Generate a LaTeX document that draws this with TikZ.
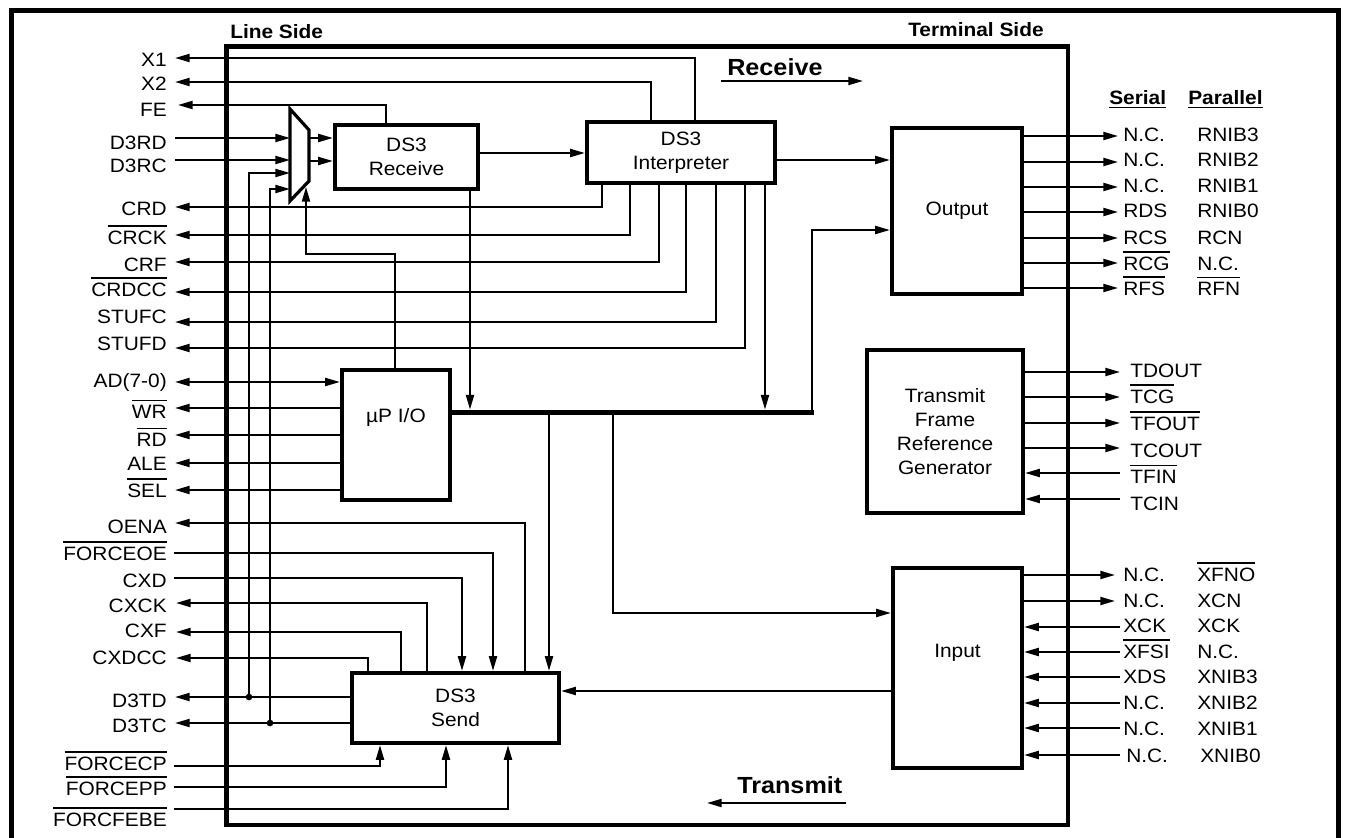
\documentclass[tikz,border=0pt]{standalone}
\usepackage{fontspec}
\setmainfont[FakeStretch=1.08]{Liberation Sans}
\usetikzlibrary{arrows.meta,calc}
\newcommand\ovl[1]{\setbox0\hbox{#1}\rlap{\raisebox{\dimexpr\ht0+2.6pt\relax}{\rule{\wd0}{1.2pt}}}\box0}
\newcommand\uln[1]{\setbox0\hbox{#1}\rlap{\raisebox{-2.6pt}{\rule{\wd0}{1.3pt}}}\box0}
\tikzset{
 wire/.style={line width=1.5pt},
 arr/.style={wire,-{Triangle[length=11pt,width=6pt]}},
 darr/.style={wire,{Triangle[length=11pt,width=6pt]}-{Triangle[length=11pt,width=6pt]}},
 blk/.style={draw,line width=3.2pt,inner sep=0pt,align=center,font=\fontsize{14.5}{17.8}\selectfont},
 pin/.style={inner sep=0pt,font=\fontsize{14.5}{17}\selectfont},
 hdr/.style={inner sep=0pt,font=\fontsize{14.5}{17}\selectfont\bfseries},
 big/.style={inner sep=0pt,font=\fontsize{17.5}{20}\selectfont\bfseries},
 dotc/.style={circle,fill,inner sep=0pt,minimum size=5pt},
}
\begin{document}
\begin{tikzpicture}[x=0.75pt,y=-0.75pt]
\useasboundingbox (0,0) rectangle (1346,838);
\fill[white] (0,0) rectangle (1346,838);
% outer frame and chip outline
\draw[line width=3.75pt] (11,838) -- (11,11) -- (1338,11) -- (1338,838);
\draw[line width=3.2pt] (226.5,46.5) rectangle (1068,825);
\node[hdr,anchor=base west] (lineside) at (230,39) {Line Side};
\node[hdr,anchor=base west] (termside) at (908,37) {Terminal Side};
% blocks
\node[blk,minimum width=107.25pt,minimum height=48pt] (recv) at (406.5,157) {DS3\\Receive};
\node[blk,minimum width=141pt,minimum height=45.75pt] (interp) at (681,152.5) {DS3\\Interpreter};
\node[blk,minimum width=97.5pt,minimum height=124.5pt] (outp) at (957,211) {Output};
\node[blk,minimum width=117pt,minimum height=122.25pt] (tfrg) at (945,431.5) {Transmit\\Frame\\Reference\\Generator};
\node[blk,minimum width=96.75pt,minimum height=150pt] (inp) at (957.5,668) {Input\\[8pt]};
\node[blk,minimum width=81pt,minimum height=97.5pt] (mpu) at (396,435) {µP I/O\\[12pt]};
\node[blk,minimum width=155.25pt,minimum height=52.5pt] (send) at (455.5,708) {DS3\\Send};
% mux
\draw[line width=2.4pt,line join=miter] (290,109) -- (309,130) -- (309,181) -- (290,201) -- cycle;
\coordinate (muxI1) at (290,138);
\coordinate (muxI2) at (290,160);
\coordinate (muxI3) at (290,173);
\coordinate (muxI4) at (290,189);
\coordinate (muxO1) at (309,138);
\coordinate (muxO2) at (309,161);
\coordinate (muxS) at (306,187);
% bus
\coordinate (busL) at (450,412);
\coordinate (busR) at (814,412);
\draw[line width=3.75pt] (busL) -- (busR);
% left pin ends
\coordinate (pX1) at (175,58);
\coordinate (pX2) at (175,82);
\coordinate (pFE) at (178,105);
\coordinate (pD3RD) at (175,138);
\coordinate (pD3RC) at (175,160);
% top connectors
\draw[arr] (interp.north -| 695,0) |- (pX1);
\draw[arr] (interp.north -| 651,0) |- (pX2);
\draw[arr] (recv.north -| 386,0) |- (pFE);
\draw[arr] (pD3RD) -- (muxI1);
\draw[arr] (pD3RC) -- (muxI2);
\node[dotc] (dTD) at (249,697) {};
\node[dotc] (dTC) at (270,723) {};
\draw[arr] (dTD.center) |- (muxI3);
\draw[arr] (dTC.center) |- (muxI4);
\draw[arr] (muxO1) -- (recv.west |- muxO1);
\draw[arr] (muxO2) -- (recv.west |- muxO2);
\draw[arr] (mpu.north -| 395,0) -- (395,254) -- (306,254) -- (muxS);
\draw[arr] (recv.east |- 0,153) -- (interp.west |- 0,153);
\draw[arr,shorten >=1.8pt] (recv.south -| 470,0) -- (busL -| 470,0);
\draw[arr] (interp.east |- 0,160) -- (outp.west |- 0,160);
% interpreter status outputs
\foreach \xx/\yy/\nm in {602/207/CRD,630/235/CRCK,659/262/CRF,686/292/CRDCC,716/322/STUFC,745/348/STUFD}{
  \coordinate (p\nm) at (175,\yy);
  \draw[arr] (interp.south -| \xx,0) |- (p\nm);
}
\draw[arr,shorten >=1.8pt] (interp.south -| 765,0) -- (busR -| 765,0);
\draw[arr] (busR -| 812,0) |- (outp.west |- 0,230);
\draw[arr] (busL -| 549,0) -- (send.north -| 549,0);
\draw[arr] (busL -| 613,0) |- (inp.west |- 0,613);
% microprocessor pins
\coordinate (pAD) at (175,382);
\draw[darr] (pAD) -- (mpu.west |- pAD);
\foreach \yy/\nm in {408/WR,435/RD,463/ALE,490/SEL}{
  \coordinate (p\nm) at (175,\yy);
  \draw[arr] (mpu.west |- p\nm) -- (p\nm);
}
% send pins
\coordinate (pOENA) at (175,523);
\draw[arr] (send.north -| 525,0) |- (pOENA);
\coordinate (pFOE) at (174,553);
\draw[arr] (pFOE) -| (send.north -| 493,0);
\coordinate (pCXD) at (174,578);
\draw[arr] (pCXD) -| (send.north -| 462,0);
\coordinate (pCXCK) at (176,603);
\draw[arr] (send.north -| 427,0) |- (pCXCK);
\coordinate (pCXF) at (176,632);
\draw[arr] (send.north -| 401,0) |- (pCXF);
\coordinate (pCXDCC) at (176,658);
\draw[arr] (send.north -| 368,0) |- (pCXDCC);
\coordinate (pD3TD) at (175,697);
\draw[arr] (send.west |- pD3TD) -- (pD3TD);
\coordinate (pD3TC) at (175,723);
\draw[arr] (send.west |- pD3TC) -- (pD3TC);
\coordinate (pFCP) at (174,766);
\draw[arr] (pFCP) -| (send.south -| 380,0);
\coordinate (pFPP) at (174,787);
\draw[arr] (pFPP) -| (send.south -| 446,0);
\coordinate (pFFB) at (174,809);
\draw[arr] (pFFB) -| (send.south -| 508,0);
\draw[arr] (inp.west |- 0,691) -- (send.east |- 0,691);
% left labels
\foreach \yy/\tt [count=\i] in {67/X1,91/X2,117/FE,150/D3RD,173/D3RC,216/CRD,244/\ovl{CRCK},272/CRF,296/\ovl{CRDCC},323/STUFC,350/STUFD,387/AD(7-0),418/\ovl{WR},446/\ovl{RD},470/ALE,497/\ovl{SEL},533/OENA,560/\ovl{FORCEOE},587/CXD,612/CXCK,637/CXF,664/CXDCC,707/D3TD,732/D3TC,770/\ovl{FORCECP},795/\ovl{FORCEPP},826/\ovl{FORCFEBE}}{
  \node[pin,anchor=base east] (L\i) at (167,\yy) {\tt};
}
% output pins
\node[hdr,anchor=base west] (hser) at (1109,105) {\uln{Serial}};
\node[hdr,anchor=base west] (hpar) at (1188,105) {\uln{Parallel}};
\foreach \yy/\bb/\ss/\pp [count=\i] in {136/142/N.C./RNIB3,162/167/N.C./RNIB2,187/193/N.C./RNIB1,212/218/RDS/RNIB0,238/244/RCS/RCN,263/270/\ovl{RCG}/N.C.,288/295/\ovl{RFS}/\ovl{RFN}}{
  \coordinate (o\i) at (1118,\yy);
  \draw[arr] (outp.east |- o\i) -- (o\i);
  \node[pin,anchor=base west] (os\i) at (1123,\bb) {\ss};
  \node[pin,anchor=base west] (op\i) at (1197,\bb) {\pp};
}
% transmit frame reference generator pins
\foreach \yy/\bb/\ss [count=\i] in {372/377/TDOUT,397/403/\ovl{TCG},423/430/\ovl{TFOUT},448/457/TCOUT}{
  \coordinate (t\i) at (1120,\yy);
  \draw[arr] (tfrg.east |- t\i) -- (t\i);
  \node[pin,anchor=base west] (ts\i) at (1130,\bb) {\ss};
}
\foreach \yy/\bb/\ss [count=\i] in {473/483/\ovl{TFIN},499/510/TCIN}{
  \coordinate (ti\i) at (1120,\yy);
  \draw[arr] (ti\i) -- (tfrg.east |- ti\i);
  \node[pin,anchor=base west] (tis\i) at (1130,\bb) {\ss};
}
% input pins
\foreach \yy/\bb/\ss/\pp [count=\i] in {575/581/N.C./\ovl{XFNO},601/607/N.C./XCN}{
  \coordinate (x\i) at (1115,\yy);
  \draw[arr] (inp.east |- x\i) -- (x\i);
  \node[pin,anchor=base west] (xs\i) at (1123,\bb) {\ss};
  \node[pin,anchor=base west] (xp\i) at (1197,\bb) {\pp};
}
\foreach \yy/\bb/\ss/\pp/\xs [count=\i] in {627/632/XCK/XCK/0,652/658/\ovl{XFSI}/N.C./0,677/683/XDS/XNIB3/0,703/709/N.C./XNIB2/0,728/735/N.C./XNIB1/0,755/762/N.C./XNIB0/3}{
  \coordinate (xi\i) at (1120,\yy);
  \draw[arr] (xi\i) -- (inp.east |- xi\i);
  \node[pin,anchor=base west] (xis\i) at (1123+\xs,\bb) {\ss};
  \node[pin,anchor=base west] (xip\i) at (1197+\xs,\bb) {\pp};
}
% direction indicators
\node[big,anchor=base west] (rcvlbl) at (727,76) {Receive};
\coordinate (ra) at (721,81);
\coordinate (rb) at (863,81);
\draw[arr] (ra) -- (rb);
\node[big,anchor=base west] (xmtlbl) at (737,793) {Transmit};
\coordinate (ta) at (846,803);
\coordinate (tb) at (707,803);
\draw[arr] (ta) -- (tb);
\end{tikzpicture}
\end{document}
